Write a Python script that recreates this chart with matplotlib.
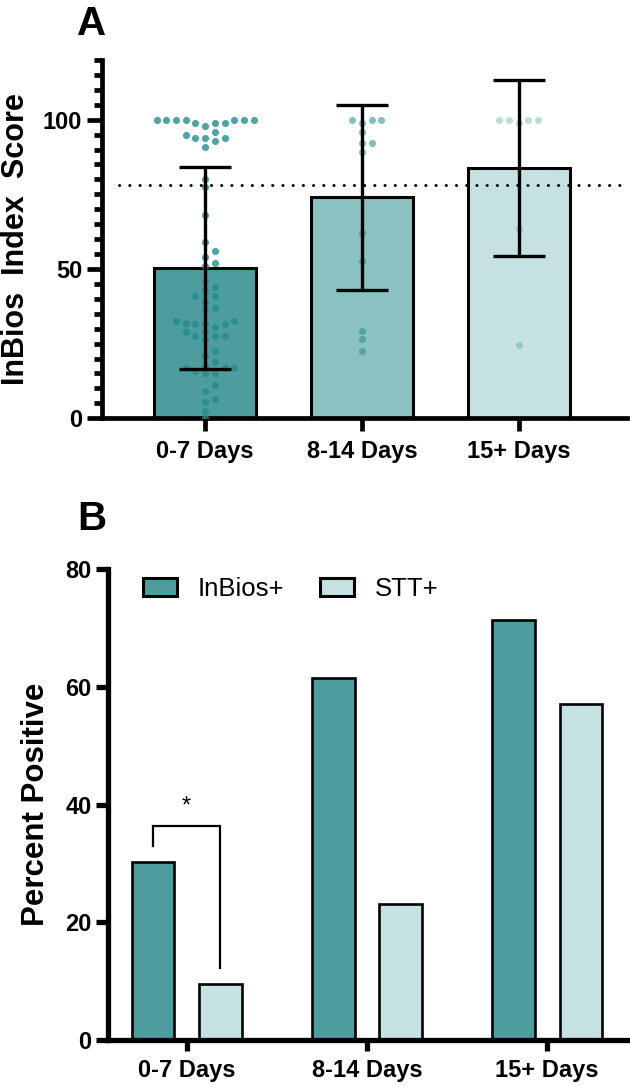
import numpy as np
import matplotlib
matplotlib.use("Agg")
from matplotlib import pyplot as plt
import matplotlib.patches as mpatches

plt.rcParams['font.family'] = ['Liberation Sans', 'DejaVu Sans']

# ---- data ----
groups = ['0-7 Days', '8-14 Days', '15+ Days']

# panel A: individual InBios index scores
scores_0_7 = [100, 99, 100, 98, 100, 100, 100, 99, 100, 99, 100,
              95, 94, 94, 96, 93, 94, 91,
              80, 77.5, 68, 59, 56, 54, 52, 51,
              46, 44, 43, 41, 41, 39, 36.5, 37,
              32, 32.5, 31.5, 32.5, 30.5, 31.5, 31.5,
              29, 29, 27.5, 27.5, 26.5, 27.5,
              22.5, 21, 19, 17.5, 17, 17, 16, 17,
              15, 15, 11, 9, 6.5, 5.5, 2.5, 0]
scores_8_14 = [100, 99, 100, 100, 96, 92.2, 92.2, 89.2, 62.2, 52.6, 29.4, 26.5, 22.7]
scores_15 = [100, 100, 99, 100, 100, 63.3, 24.6]
cutoff = 78

# panel B: percent positive
inbios_pos = [30.2, 61.5, 71.4]
stt_pos = [9.5, 23.1, 57.1]

bar_cols = ['#4E9D9E', '#8BC1C2', '#C5E1E2']
dot_base = '#228C8C'
dot_alpha = [0.8, 0.55, 0.3]


def swarm_x(ax, values, center, step=9.7, min_dist=7.2):
    """simple beeswarm: put points on discrete columns, avoid overlaps (pixel space)"""
    trans = ax.transData
    placed = []
    xs, ys = [], []
    order = [0]
    for k in range(1, 12):
        order += [k, -k]
    for v in sorted(values):
        cx, cy = trans.transform((center, v))
        for k in order:
            px = cx + k * step
            ok = True
            for qx, qy in placed:
                if (px - qx) ** 2 + (cy - qy) ** 2 < min_dist ** 2:
                    ok = False
                    break
            if ok:
                break
        placed.append((px, cy))
        dx, dy = trans.inverted().transform((px, cy))
        xs.append(dx)
        ys.append(v)
    return xs, ys


fig = plt.figure(figsize=(6.3, 10.87), dpi=100)

# ---------- Panel A ----------
axA = fig.add_axes([0.1614, 0.6152, 0.8338, 0.3296])
axA.set_xlim(-0.66, 2.69)
axA.set_ylim(0, 120)

all_scores = [scores_0_7, scores_8_14, scores_15]
means = [np.mean(s) for s in all_scores]
sds = [np.std(s, ddof=1) for s in all_scores]
xpos = np.arange(len(groups))

axA.bar(xpos, means, width=0.65, color=bar_cols, edgecolor='black',
        linewidth=2.2, zorder=2)

for i, s in enumerate(all_scores):
    xs, ys = swarm_x(axA, s, xpos[i])
    axA.scatter(xs, ys, s=26, color=dot_base, alpha=dot_alpha[i],
                linewidths=0, zorder=3)

axA.errorbar(xpos, means, yerr=sds, fmt='none', ecolor='black',
             elinewidth=2.4, capsize=18.7, capthick=2.4, zorder=4)

axA.hlines(cutoff, -0.55, 2.69, colors='black', linewidth=2.1,
           linestyles=(0, (0.1, 3.4)), capstyle='round', zorder=5)

for side in ['top', 'right']:
    axA.spines[side].set_visible(False)
for side in ['left', 'bottom']:
    axA.spines[side].set_linewidth(3.4)

axA.set_yticks([0, 50, 100])
axA.set_yticks(np.arange(0, 121, 5), minor=True)
axA.set_xticks(xpos)
axA.set_xticklabels(groups)
axA.tick_params(axis='y', which='major', length=11, width=3.4, labelsize=17, pad=3)
axA.tick_params(axis='y', which='minor', length=6, width=3.4)
axA.tick_params(axis='x', length=9.5, width=3.4, labelsize=17, pad=6)
for lab in axA.get_xticklabels() + axA.get_yticklabels():
    lab.set_fontweight('bold')

axA.set_ylabel('InBios  Index  Score', fontsize=22, fontweight='bold')
axA.yaxis.set_label_coords(-0.134, 0.5)

fig.text(77 / 630, 1 - 35 / 1087, 'A', fontsize=29, fontweight='bold',
         ha='left', va='baseline')

# ---------- Panel B ----------
axB = fig.add_axes([0.1719, 0.04324, 0.8249, 0.4329])
axB.set_xlim(-0.435, 2.448)
axB.set_ylim(0, 80)

off = 0.187
bw = 0.236
axB.bar(xpos - off, inbios_pos, width=bw, color=bar_cols[0], edgecolor='black',
        linewidth=1.9, label='InBios+', zorder=2)
axB.bar(xpos + off, stt_pos, width=bw, color=bar_cols[2], edgecolor='black',
        linewidth=1.9, label='STT+', zorder=2)

# significance bracket on 0-7 days
xl, xr = xpos[0] - off, xpos[0] + off
axB.plot([xl, xl, xr, xr], [32.9, 36.4, 36.4, 12.3], color='black',
         linewidth=1.6, solid_joinstyle='miter', zorder=3)
axB.text((xl + xr) / 2, 38.6, '*', fontsize=17, ha='center', va='baseline')

for side in ['top', 'right']:
    axB.spines[side].set_visible(False)
for side in ['left', 'bottom']:
    axB.spines[side].set_linewidth(3.8)

axB.set_yticks([0, 20, 40, 60, 80])
axB.set_xticks(xpos)
axB.set_xticklabels(groups)
axB.tick_params(axis='y', length=9, width=3.8, labelsize=17, pad=3)
axB.tick_params(axis='x', length=8, width=3.8, labelsize=17, pad=6)
for lab in axB.get_xticklabels() + axB.get_yticklabels():
    lab.set_fontweight('bold')

axB.set_ylabel('Percent Positive', fontsize=22.5, fontweight='bold')
axB.yaxis.set_label_coords(-0.111, 0.5)

handles = [mpatches.Patch(facecolor=bar_cols[0], edgecolor='black', linewidth=2.2),
           mpatches.Patch(facecolor=bar_cols[2], edgecolor='black', linewidth=2.2)]
axB.legend(handles, ['InBios+', 'STT+'], loc='upper left',
           bbox_to_anchor=(143 / 630, 1 - 577 / 1087), bbox_transform=fig.transFigure,
           ncol=2, frameon=False, fontsize=18.5, handlelength=1.32,
           handleheight=0.66, handletextpad=0.8, columnspacing=1.4,
           borderpad=0, borderaxespad=0)

fig.text(77 / 630, 1 - 530 / 1087, 'B', fontsize=29, fontweight='bold',
         ha='left', va='baseline')

fig.savefig('out.png', dpi=100)
